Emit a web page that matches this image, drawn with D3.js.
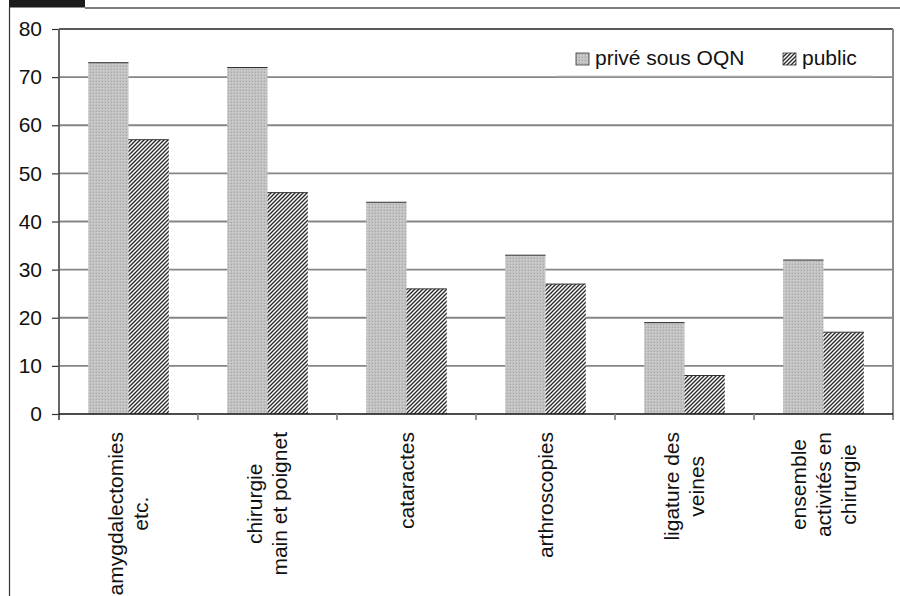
<!DOCTYPE html>
<html>
<head>
<meta charset="utf-8">
<script src="https://cdn.jsdelivr.net/npm/d3@7"></script>
<style>
  html, body { margin: 0; padding: 0; background: #fff; }
  svg { display: block; font-family: "Liberation Sans", Arial, sans-serif; }
</style>
</head>
<body>
<svg id="chart" width="900" height="596"></svg>
<script>
// Share of day-case surgery by procedure, private (OQN) vs public
const categories = [
  ["amygdalectomies", "etc."],
  ["chirurgie", "main et poignet"],
  ["cataractes"],
  ["arthroscopies"],
  ["ligature des", "veines"],
  ["ensemble", "activités en", "chirurgie"]
];
const seriesNames = ["privé sous OQN", "public"];
const priveValues = [73, 72, 44, 33, 19, 32];
const publicValues = [57, 46, 26, 27, 8, 17];
const yTicks = [0, 10, 20, 30, 40, 50, 60, 70, 80];

const svg = d3.select("#chart");
const margin = { left: 59, right: 893, top: 29, bottom: 414 };
const fontSize = 21;

// Patterns: fine dotted grey for private, dense diagonal hatch for public
const defs = svg.append("defs");
const dots = defs.append("pattern").attr("id", "pat-prive")
  .attr("patternUnits", "userSpaceOnUse").attr("width", 3).attr("height", 3);
dots.append("rect").attr("width", 3).attr("height", 3).attr("fill", "#c2c2c2");
dots.append("rect").attr("width", 1).attr("height", 1).attr("fill", "#a6a6a6");
dots.append("rect").attr("x", 1).attr("y", 1).attr("width", 1).attr("height", 1).attr("fill", "#d4d4d4");

const hatch = defs.append("pattern").attr("id", "pat-public")
  .attr("patternUnits", "userSpaceOnUse").attr("width", 4).attr("height", 4);
hatch.append("rect").attr("width", 4).attr("height", 4).attr("fill", "#ffffff");
hatch.append("path").attr("d", "M-1,1 L1,-1 M0,4 L4,0 M3,5 L5,3")
  .attr("stroke", "#262626").attr("stroke-width", 1.35);

// Outer frame: dark tab, top rule and left rule
svg.append("rect").attr("x", 9).attr("y", 0).attr("width", 76).attr("height", 7.5).attr("fill", "#1c1c1c");
svg.append("line").attr("x1", 85).attr("x2", 900).attr("y1", 8).attr("y2", 8)
  .attr("stroke", "#555").attr("stroke-width", 1.5);
svg.append("line").attr("x1", 9.5).attr("x2", 9.5).attr("y1", 7).attr("y2", 596)
  .attr("stroke", "#333").attr("stroke-width", 1.2);

// Scales
const x0 = d3.scaleBand().domain(d3.range(categories.length))
  .range([margin.left, margin.right]).paddingInner(0).paddingOuter(0);
const bandW = x0.bandwidth();
const barW = bandW * 0.29;
const y = d3.scaleLinear().domain([0, 80]).range([margin.bottom, margin.top]);

// Gridlines
svg.append("g").selectAll("line").data(yTicks.filter(d => d > 0)).join("line")
  .attr("x1", margin.left).attr("x2", margin.right)
  .attr("y1", d => y(d)).attr("y2", d => y(d))
  .attr("stroke", d => d === 80 ? "#222" : "#858585")
  .attr("stroke-width", d => d === 80 ? 1.3 : 1.8);

// Right plot border
svg.append("line").attr("x1", margin.right).attr("x2", margin.right)
  .attr("y1", margin.top).attr("y2", margin.bottom + 6)
  .attr("stroke", "#8a8a8a").attr("stroke-width", 2);

// Bars
const groups = svg.append("g").selectAll("g").data(categories).join("g");
groups.each(function(_, i) {
  const g = d3.select(this);
  const cx = x0(i) + bandW / 2;
  [[priveValues[i], "url(#pat-prive)", cx - barW], [publicValues[i], "url(#pat-public)", cx]].forEach(([v, fill, bx]) => {
    g.append("rect").attr("x", bx).attr("y", y(v)).attr("width", barW)
      .attr("height", y(0) - y(v)).attr("fill", fill);
    g.append("line").attr("x1", bx).attr("x2", bx + barW)
      .attr("y1", y(v)).attr("y2", y(v)).attr("stroke", "#333").attr("stroke-width", 1);
  });
});

// Y axis
const yAxis = d3.axisLeft(y).tickValues(yTicks).tickSize(7).tickPadding(10);
const gy = svg.append("g").attr("transform", `translate(${margin.left},0)`).call(yAxis);
gy.select(".domain").remove();
gy.selectAll(".tick line").attr("stroke", "#333").attr("stroke-width", 1.2);
gy.selectAll(".tick text").attr("font-size", fontSize).attr("fill", "#111")
  .attr("font-family", "Liberation Sans, Arial, sans-serif");
svg.append("line").attr("x1", margin.left).attr("x2", margin.left)
  .attr("y1", margin.top).attr("y2", margin.bottom + 6)
  .attr("stroke", "#555").attr("stroke-width", 1.8);

// X axis line and boundary ticks
svg.append("line").attr("x1", margin.left).attr("x2", margin.right)
  .attr("y1", margin.bottom).attr("y2", margin.bottom)
  .attr("stroke", "#111").attr("stroke-width", 1.5);
svg.append("g").selectAll("line").data(d3.range(1, categories.length)).join("line")
  .attr("x1", d => x0(d)).attr("x2", d => x0(d))
  .attr("y1", margin.bottom).attr("y2", margin.bottom + 6)
  .attr("stroke", "#888").attr("stroke-width", 1.8);

// Category labels: rotated, lines centred on the widest line, anchored below the axis
const labelTop = 432;
const lineH = 25;
categories.forEach((lines, i) => {
  const cx = x0(i) + bandW / 2;
  const t = svg.append("text")
    .attr("font-size", fontSize).attr("fill", "#111").attr("text-anchor", "middle");
  const spans = lines.map((s, k) => t.append("tspan").text(s));
  const maxW = d3.max(spans, sp => sp.node().getComputedTextLength());
  const cy = labelTop + maxW / 2;
  t.attr("transform", `translate(${cx},${cy}) rotate(-90)`);
  const n = lines.length;
  spans.forEach((sp, k) => {
    sp.attr("x", 0).attr("y", (k - (n - 1) / 2) * lineH + fontSize * 0.35);
  });
});

// Legend
const lg = svg.append("g");
lg.append("rect").attr("x", 557).attr("y", 38).attr("width", 316).attr("height", 39).attr("fill", "#fff");
lg.append("line").attr("x1", 557).attr("x2", 873).attr("y1", 76.5).attr("y2", 76.5)
  .attr("stroke", "#a8a8a8").attr("stroke-width", 1.3);
const legendItems = [
  { name: seriesNames[0], fill: "url(#pat-prive)", x: 576 },
  { name: seriesNames[1], fill: "url(#pat-public)", x: 783 }
];
legendItems.forEach(it => {
  lg.append("rect").attr("x", it.x).attr("y", 53).attr("width", 13).attr("height", 12)
    .attr("fill", it.fill).attr("stroke", "#333").attr("stroke-width", 0.8);
  lg.append("text").attr("x", it.x + 19).attr("y", 65).attr("font-size", fontSize)
    .attr("fill", "#111").text(it.name);
});
</script>
</body>
</html>
